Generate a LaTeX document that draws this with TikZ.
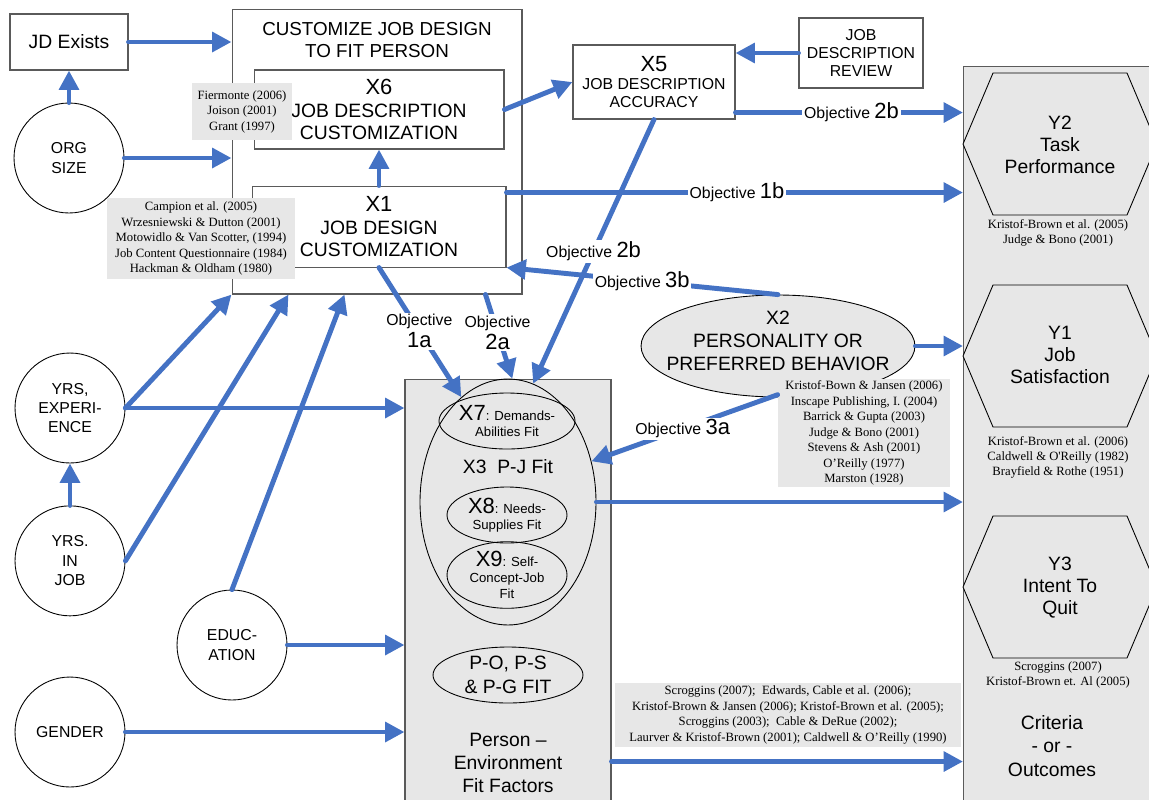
\documentclass[tikz,border=0pt]{standalone}
\usepackage{fontspec}
\setmainfont{Liberation Sans}
\newfontfamily\citefont{Liberation Serif}
\usetikzlibrary{
  arrows.meta,
  shapes.geometric,
  positioning,
  calc
}
\definecolor{FlowBlue} {RGB}{68,114,196}
\definecolor{PanelGray}{RGB}{231,231,231}
\definecolor{EdgeGray} {RGB}{90,90,90}

\newcommand{\objn}[1]{{\fontsize{12.5}{12.5}\selectfont #1}}
\newcommand{\xbig}[1]{{\fontsize{12.5}{13}\selectfont #1}}

\begin{document}
\begin{tikzpicture}[x=0.02cm, y=-0.02cm,
  box/.style   ={rectangle, draw=EdgeGray, line width=0.6pt, fill=white,
                 align=center, inner sep=0pt},
  factor/.style={circle, draw=black, line width=0.5pt, fill=white,
                 minimum size=2.2cm, inner sep=0pt, align=center,
                 font=\fontsize{9}{11}\selectfont},
  cite/.style  ={rectangle, fill=PanelGray, inner sep=1pt, align=center,
                 font=\citefont\fontsize{7.2}{8.8}\selectfont},
  panel/.style ={rectangle, draw=EdgeGray, line width=0.6pt, fill=PanelGray},
  fitell/.style={ellipse, draw=black, line width=0.5pt, inner sep=0pt,
                 align=center},
  hexa/.style  ={draw=black, line width=0.5pt, fill=PanelGray},
  arr/.style   ={-{Triangle[length=11pt,width=11pt]}, line width=2.8pt,
                 FlowBlue, line cap=round},
  obj/.style   ={fill=white, inner sep=1pt, text=black,
                 font=\fontsize{9}{12.5}\selectfont}
]
\useasboundingbox (0,0) rectangle (1149,799);
\clip (0,0) rectangle (1149,799);

% panels
\node[panel, minimum width=4.12cm, minimum height=8.72cm] (pe) at (508,597) {};
\node[panel, minimum width=4.2cm, minimum height=15cm, anchor=north west] (out) at (963,66) {};
\foreach \yc in {144,356,587}
  \draw[hexa] (963,\yc) -- ++(30,-71) -- ++(134,0) -- ++(30,71)
              -- ++(-30,71) -- ++(-134,0) -- cycle;

% outcomes
\node[align=center, font=\fontsize{11}{12.5}\selectfont] (y2) at (1060,145) {Y2\\Task\\Performance};
\node[align=center, font=\fontsize{11}{12.5}\selectfont] (y1) at (1060,355) {Y1\\Job\\Satisfaction};
\node[align=center, font=\fontsize{11}{12.5}\selectfont] (y3) at (1060,588) {Y3\\Intent To\\Quit};
\node[cite] (citeY2) at (1058,233) {Kristof-Brown et al. (2005)\\Judge \& Bono (2001)};
\node[cite, font=\citefont\fontsize{7.2}{8.5}\selectfont] (citeY1) at (1058,457)
  {Kristof-Brown et al. (2006)\\Caldwell \& O\textquotesingle Reilly (1982)\\Brayfield \& Rothe (1951)};
\node[cite] (citeY3) at (1058,675) {Scroggins (2007)\\Kristof-Brown et. Al (2005)};
\node[align=center, font=\fontsize{11}{13.6}\selectfont] (outlbl) at (1052,746) {Criteria\\- or -\\Outcomes};

% person-environment fit
\node[fitell, minimum width=3.52cm, minimum height=4.92cm] (x3) at (508,502) {};
\node[font=\fontsize{11}{13}\selectfont] (x3lbl) at (508,467) {X3~~P-J Fit};
\node[fitell, minimum width=2.4cm, minimum height=1.12cm, font=\fontsize{7.5}{9}\selectfont]
  (x7) at (507,421) {\xbig{X7}: Demands-\\Abilities Fit};
\node[fitell, minimum width=2.4cm, minimum height=1.12cm, font=\fontsize{7.5}{9}\selectfont]
  (x8) at (507,515) {\xbig{X8}: Needs-\\Supplies Fit};
\node[fitell, minimum width=2.4cm, minimum height=1.12cm, font=\fontsize{7.5}{9}\selectfont]
  (x9) at (507,575) {\xbig{X9}: Self-\\Concept-Job\\Fit};
\node[fitell, minimum width=3cm, minimum height=1.12cm, font=\fontsize{11}{14}\selectfont]
  (pofit) at (508,675) {P-O, P-S\\\& P-G FIT};
\node[align=center, font=\fontsize{11}{13}\selectfont] (pelbl) at (508,763) {Person --\\Environment\\Fit Factors};

% left factors
\node[box, minimum width=2.36cm, minimum height=1.12cm, font=\fontsize{11}{13}\selectfont] (jd) at (69,42) {JD Exists};
\node[factor] (org) at (69,158) {ORG\\SIZE};
\node[factor] (yrsexp) at (70,408) {YRS,\\EXPERI-\\ENCE};
\node[factor, below=0.84cm of yrsexp] (yrsjob) {YRS.\\IN\\JOB};
\node[factor] (educ) at (232,645) {EDUC-\\ATION};
\node[factor] (gender) at (70,732) {GENDER};

% job design
\node[box, minimum width=5.8cm, minimum height=5.7cm] (cust) at (377,151.5) {};
\node[below=0.28cm of cust.north, inner sep=0pt, align=center, font=\fontsize{10.7}{12.5}\selectfont]
  (custtitle) {CUSTOMIZE JOB DESIGN\\TO FIT PERSON};
\node[box, minimum width=5cm, minimum height=1.58cm, font=\fontsize{11}{13}\selectfont]
  (x6) at (379,109.5) {\xbig{X6}\\JOB DESCRIPTION\\CUSTOMIZATION};
\node[box, minimum width=5.08cm, minimum height=1.62cm, font=\fontsize{11}{13}\selectfont, below=0.72cm of x6]
  (x1) {\xbig{X1}\\JOB DESIGN\\CUSTOMIZATION};
\node[cite, minimum width=2cm, minimum height=1.14cm] (citeA) at (242,111.5)
  {Fiermonte (2006)\\Joison (2001)\\Grant (1997)};
\node[cite, minimum width=3.76cm, minimum height=1.62cm] (citeB) at (201,238.5)
  {Campion et al. (2005)\\Wrzesniewski \& Dutton (2001)\\Motowidlo \& Van Scotter, (1994)\\Job Content Questionnaire (1984)\\Hackman \& Oldham (1980)};

% job description
\node[box, minimum width=3.24cm, minimum height=1.48cm, font=\fontsize{9}{10.5}\selectfont]
  (x5) at (654,82) {\xbig{X5}\\JOB DESCRIPTION\\ACCURACY};
\node[box, minimum width=2.48cm, minimum height=1.4cm, font=\fontsize{9}{10.5}\selectfont]
  (review) at (861,53) {JOB\\DESCRIPTION\\REVIEW};

% personality
\node[fitell, fill=PanelGray, minimum width=5.48cm, minimum height=2.04cm] (x2) at (778,346) {};
\node[align=center, font=\fontsize{11}{13}\selectfont] (x2lbl) at (778,341)
  {X2\\PERSONALITY OR\\PREFERRED BEHAVIOR};
\node[cite, minimum width=3.44cm, minimum height=2.14cm] (citeC) at (864,433)
  {Kristof-Bown \& Jansen (2006)\\Inscape Publishing, I. (2004)\\Barrick \& Gupta (2003)\\Judge \& Bono (2001)\\Stevens \& Ash (2001)\\O’Reilly (1977)\\Marston (1928)};
\node[cite, minimum width=6.92cm, minimum height=1.28cm] (citeD) at (788,715)
  {Scroggins (2007);\ \ Edwards, Cable et al. (2006);\\Kristof-Brown \& Jansen (2006); Kristof-Brown et al. (2005);\\Scroggins (2003);\ \ Cable \& DeRue (2002);\\Laurver \& Kristof-Brown (2001); Caldwell \& O’Reilly (1990)};

% arrows, left side
\draw[arr] (org.north) -- (jd.south);
\draw[arr] (jd.east) -- (jd.east -| cust.west);
\draw[arr] (org.east) -- (org.east -| cust.west);
\draw[arr] (yrsjob.north) -- (yrsexp.south);
\draw[arr] (yrsexp.east) -- (yrsexp.east -| pe.west);
\draw[arr] (yrsexp.east) -- (cust.south west);
\draw[arr] (yrsjob.east) -- ($(cust.south west)+(57,0)$);
\draw[arr] (educ.north) -- ($(cust.south west)+(113,0)$);
\draw[arr] (educ.east) -- (educ.east -| pe.west);
\draw[arr] (gender.east) -- (gender.east -| pe.west);

% arrows, middle
\draw[arr] (x1.north) -- (x6.south);
\draw[arr] (x6.east) -- (x5.west);
\draw[arr] (review.west) -- (review.west -| x5.east);
\draw[arr] (x1.south) -- (x3.114)
  node[obj, pos=0.49, align=center] {Objective\\\objn{1a}};
\coordinate (custb) at ($(cust.south east)+(-37,0)$);
\draw[arr] (custb) -- (x3.88)
  node[obj, pos=0.45, align=center] {Objective\\\objn{2a}};
\draw[arr] (x5.south) -- (x3.78) node[obj, pos=0.5] {Objective \objn{2b}};
\draw[arr] (x2.north) -- (x1.south east) node[obj, pos=0.5] {Objective \objn{3b}};
\coordinate (kbw) at ($(citeC.north west)+(0,16)$);
\draw[arr] (kbw) -- (x3.26) node[obj, pos=0.51] {Objective \objn{3a}};

% arrows to outcomes
\coordinate (x5r) at ($(x5.south east)+(0,-7)$);
\draw[arr] (x5r) -- (x5r -| out.west) node[obj, pos=0.51] {Objective \objn{2b}};
\coordinate (x1r) at ($(x1.north east)+(0,7)$);
\draw[arr] (x1r) -- (x1r -| out.west) node[obj, pos=0.505] {Objective \objn{1b}};
\draw[arr] (x2.east) -- (x2.east -| out.west);
\draw[arr] (x3.east) -- (x3.east -| out.west);
\coordinate (per) at ($(pe.north east)+(0,383)$);
\draw[arr] (per) -- (per -| out.west);
\end{tikzpicture}
\end{document}
